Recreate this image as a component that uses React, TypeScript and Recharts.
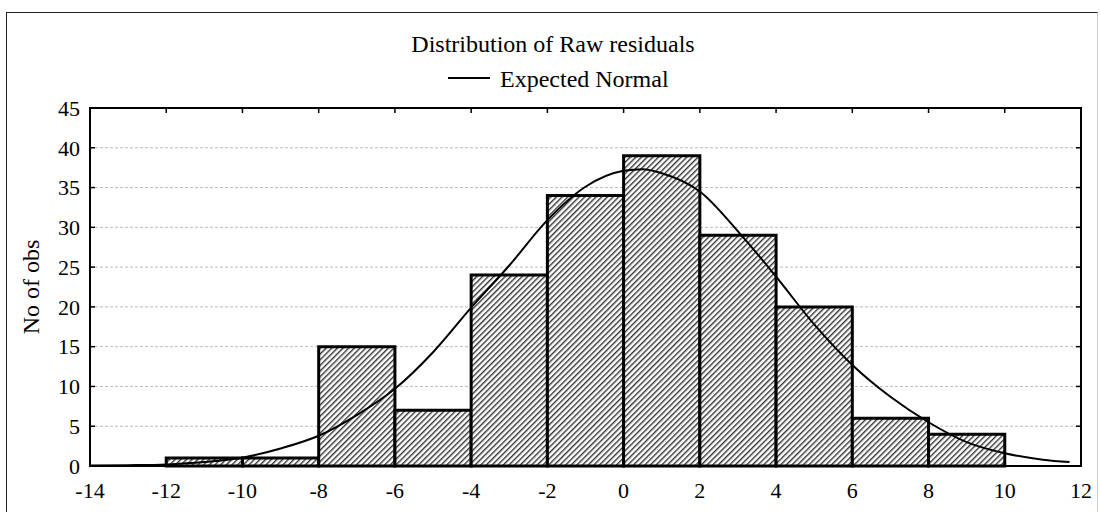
import React from "react";
import {
  ComposedChart,
  Line,
  XAxis,
  YAxis,
  CartesianGrid,
  ReferenceArea,
} from "recharts";

// Histogram bins (start of each 2-wide bin) and counts
const binStarts = [-12, -10, -8, -6, -4, -2, 0, 2, 4, 6, 8];
const binCounts = [1, 1, 15, 7, 24, 34, 39, 29, 20, 6, 4];
const binWidth = 2;

// Expected Normal curve
const curveX = [-14, -13, -12, -11, -10, -9, -8, -7, -6, -5, -4, -3, -2, -1, 0, 0.5, 1, 2, 3, 4, 5, 6, 7, 8, 9, 10, 11, 11.7];
const curveY = [0.05, 0.1, 0.2, 0.5, 1.05, 2.2, 3.8, 6.4, 9.7, 14.3, 19.9, 25.2, 30.9, 35.1, 37.1, 37.3, 36.8, 34.5, 29.5, 23.8, 17.8, 12.7, 8.7, 5.5, 3.0, 1.6, 0.8, 0.5];

const xTicks = [-14, -12, -10, -8, -6, -4, -2, 0, 2, 4, 6, 8, 10, 12];
const yTicks = [0, 5, 10, 15, 20, 25, 30, 35, 40, 45];
const xDomain = [-14, 12];
const yDomain = [0, 45];

const title = "Distribution of Raw residuals";
const legendLabel = "Expected Normal";
const yLabel = "No of obs";

const curveData = curveX.map((x, i) => ({ x, y: curveY[i] }));

const FONT = "'Liberation Serif', 'Times New Roman', serif";
const tickStyle = { fill: "#000", fontFamily: FONT, fontSize: 22 };
const EmptyTick = () => <g />;

export default function App() {
  return (
    <div style={{ position: "absolute", left: 0, top: 0, width: 1100, height: 512, background: "#fff" }}>
      <div
        style={{
          position: "absolute",
          left: 6,
          top: 12,
          width: 1092,
          height: 520,
          borderTop: "1px solid #222",
          borderLeft: "1px solid #222",
          borderRight: "1px solid #ccc",
          boxSizing: "border-box",
        }}
      />
      <svg width={1100} height={512} style={{ position: "absolute", left: 0, top: 0 }}>
        <text x={553} y={52} textAnchor="middle" fontSize={24} fontFamily={FONT} fill="#000">
          {title}
        </text>
        <line x1={448} x2={490} y1={78} y2={78} stroke="#000" strokeWidth={2} />
        <text x={500} y={87} fontSize={24} fontFamily={FONT} fill="#000">
          {legendLabel}
        </text>
      </svg>
      <div style={{ position: "absolute", left: 0, top: 0 }}>
        <ComposedChart
          width={1100}
          height={512}
          data={curveData}
          margin={{ top: 107, right: 18, bottom: 0, left: 0 }}
        >
          <defs>
            <pattern id="hatch" width={4} height={4} patternUnits="userSpaceOnUse" patternTransform="rotate(45)">
              <rect width={4} height={4} fill="#fff" />
              <rect x={0} y={0} width={1.4} height={4} fill="#333" />
            </pattern>
          </defs>
          <CartesianGrid vertical={false} stroke="#bbb" strokeDasharray="3 2" />
          <XAxis
            xAxisId={0}
            type="number"
            dataKey="x"
            domain={xDomain}
            ticks={xTicks}
            allowDataOverflow
            height={46}
            axisLine={{ stroke: "#000", strokeWidth: 2 }}
            tickLine={{ stroke: "#000", strokeWidth: 1.5 }}
            tickSize={-5}
            tickMargin={21}
            tick={tickStyle}
            interval={0}
          />
          <XAxis
            xAxisId="top"
            orientation="top"
            type="number"
            dataKey="x"
            domain={xDomain}
            ticks={xTicks}
            allowDataOverflow
            height={1}
            axisLine={{ stroke: "#000", strokeWidth: 2 }}
            tickLine={{ stroke: "#000", strokeWidth: 1.5 }}
            tickSize={-5}
            tick={EmptyTick}
            interval={0}
          />
          <YAxis
            yAxisId={0}
            type="number"
            domain={yDomain}
            ticks={yTicks}
            allowDataOverflow
            width={90}
            axisLine={{ stroke: "#000", strokeWidth: 2 }}
            tickLine={{ stroke: "#000", strokeWidth: 1.5 }}
            tickSize={-5}
            tickMargin={15}
            tick={tickStyle}
            interval={0}
            label={{
              value: yLabel,
              angle: -90,
              position: "center",
              dx: -15,
              style: { fill: "#000", fontFamily: FONT, fontSize: 24 },
            }}
          />
          <YAxis
            yAxisId="right"
            orientation="right"
            type="number"
            domain={yDomain}
            ticks={yTicks}
            allowDataOverflow
            width={1}
            axisLine={{ stroke: "#000", strokeWidth: 2 }}
            tickLine={{ stroke: "#000", strokeWidth: 1.5 }}
            tickSize={-5}
            tick={EmptyTick}
            interval={0}
          />
          {binStarts.map((s, i) => (
            <ReferenceArea
              key={s}
              xAxisId={0}
              yAxisId={0}
              x1={s}
              x2={s + binWidth}
              y1={0}
              y2={binCounts[i]}
              fill="url(#hatch)"
              fillOpacity={1}
              stroke="#000"
              strokeWidth={3}
              ifOverflow="visible"
            />
          ))}
          <ReferenceArea
            xAxisId={0}
            yAxisId={0}
            x1={xDomain[0]}
            x2={xDomain[1]}
            y1={yDomain[0]}
            y2={yDomain[1]}
            fill="none"
            fillOpacity={0}
            stroke="#000"
            strokeWidth={2}
            ifOverflow="visible"
          />
          <Line
            xAxisId={0}
            yAxisId={0}
            type="monotone"
            dataKey="y"
            stroke="#000"
            strokeWidth={2}
            dot={false}
            activeDot={false}
            isAnimationActive={false}
          />
        </ComposedChart>
      </div>
    </div>
  );
}
